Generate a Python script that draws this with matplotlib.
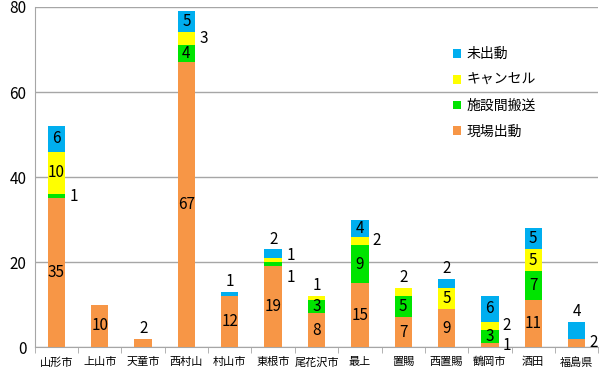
import numpy as np
import matplotlib
matplotlib.use("Agg")
import matplotlib.pyplot as plt

plt.rcParams['font.family'] = ['Noto Sans CJK JP', 'DejaVu Sans']

# data
categories = ['山形市', '上山市', '天童市', '西村山', '村山市', '東根市', '尾花沢市',
              '最上', '置賜', '西置賜', '鶴岡市', '酒田', '福島県']
genba = [35, 10, 2, 67, 12, 19, 8, 15, 7, 9, 1, 11, 2]       # 現場出動
shisetsu = [1, 0, 0, 4, 0, 1, 3, 9, 5, 0, 3, 7, 0]           # 施設間搬送
cancel = [10, 0, 0, 3, 0, 1, 1, 2, 2, 5, 2, 5, 0]            # キャンセル
mishutsu = [6, 0, 0, 5, 1, 2, 0, 4, 0, 2, 6, 5, 4]           # 未出動
series_names = ['現場出動', '施設間搬送', 'キャンセル', '未出動']
colors = ['#F79646', '#00E400', '#FFFF00', '#00AEEF']

# where each value label goes: c=centre, r=right of bar, a=above bar,
# ru / rd = right, nudged up / down
label_pos = [
    ['c', 'r', 'c', 'c'],
    ['c', '', '', ''],
    ['a', '', '', ''],
    ['c', 'c', 'r', 'c'],
    ['c', '', '', 'a'],
    ['c', 'rd', 'ru', 'a'],
    ['c', 'c', 'a', ''],
    ['c', 'c', 'r', 'c'],
    ['c', 'c', 'a', ''],
    ['c', '', 'c', 'a'],
    ['r', 'c', 'r', 'c'],
    ['c', 'c', 'c', 'c'],
    ['r', '', '', 'a'],
]

series = [genba, shisetsu, cancel, mishutsu]

fig = plt.figure(figsize=(6, 3.67), dpi=100)
ax = fig.add_axes([0.058, 0.054, 0.939, 0.927])

x = np.arange(len(categories))
width = 0.4
bottom = np.zeros(len(categories))
bars = []
for vals, name, col in zip(series, series_names, colors):
    b = ax.bar(x, vals, width, bottom=bottom, color=col, label=name, zorder=3)
    bars.append(b)
    bottom = bottom + np.array(vals)

# value labels
for i in range(len(categories)):
    base = 0
    for s, vals in enumerate(series):
        v = vals[i]
        pos = label_pos[i][s]
        if v > 0 and pos:
            mid = base + v / 2
            if pos == 'c':
                ax.text(x[i], mid, str(v), ha='center', va='center', fontsize=11, zorder=4)
            elif pos == 'a':
                ax.text(x[i], base + v + 0.4, str(v), ha='center', va='bottom', fontsize=11, zorder=4)
            else:
                dy = {'r': 0, 'ru': 1.0, 'rd': -3.0}[pos]
                ax.text(x[i] + width / 2 + 0.1, mid + dy, str(v), ha='left', va='center',
                        fontsize=11, zorder=4)
        base += v

ax.set_xlim(-0.5, len(categories) - 0.5)
ax.set_ylim(0, 80)
ax.set_yticks([0, 20, 40, 60, 80])
ax.yaxis.grid(True, color='#A6A6A6', linewidth=1, zorder=0)
ax.tick_params(axis='y', length=0, labelsize=11, pad=6)

ax.set_xticks(x)
ax.set_xticklabels(categories, fontsize=8)
ax.set_xticks(np.arange(-0.5, len(categories)), minor=True)
ax.tick_params(axis='x', which='major', length=0, pad=7)
ax.tick_params(axis='x', which='minor', length=4, color='#A6A6A6')

for side in ['top', 'right']:
    ax.spines[side].set_visible(False)
ax.spines['left'].set_color('#A6A6A6')
ax.spines['bottom'].set_color('#A6A6A6')

handles = bars[::-1]
ax.legend(handles, series_names[::-1], loc='upper left', bbox_to_anchor=(0.72, 0.918),
          frameon=False, fontsize=10, handlelength=0.6, handleheight=0.6,
          handletextpad=0.35, labelspacing=0.85)

fig.savefig('out.png', dpi=100)
